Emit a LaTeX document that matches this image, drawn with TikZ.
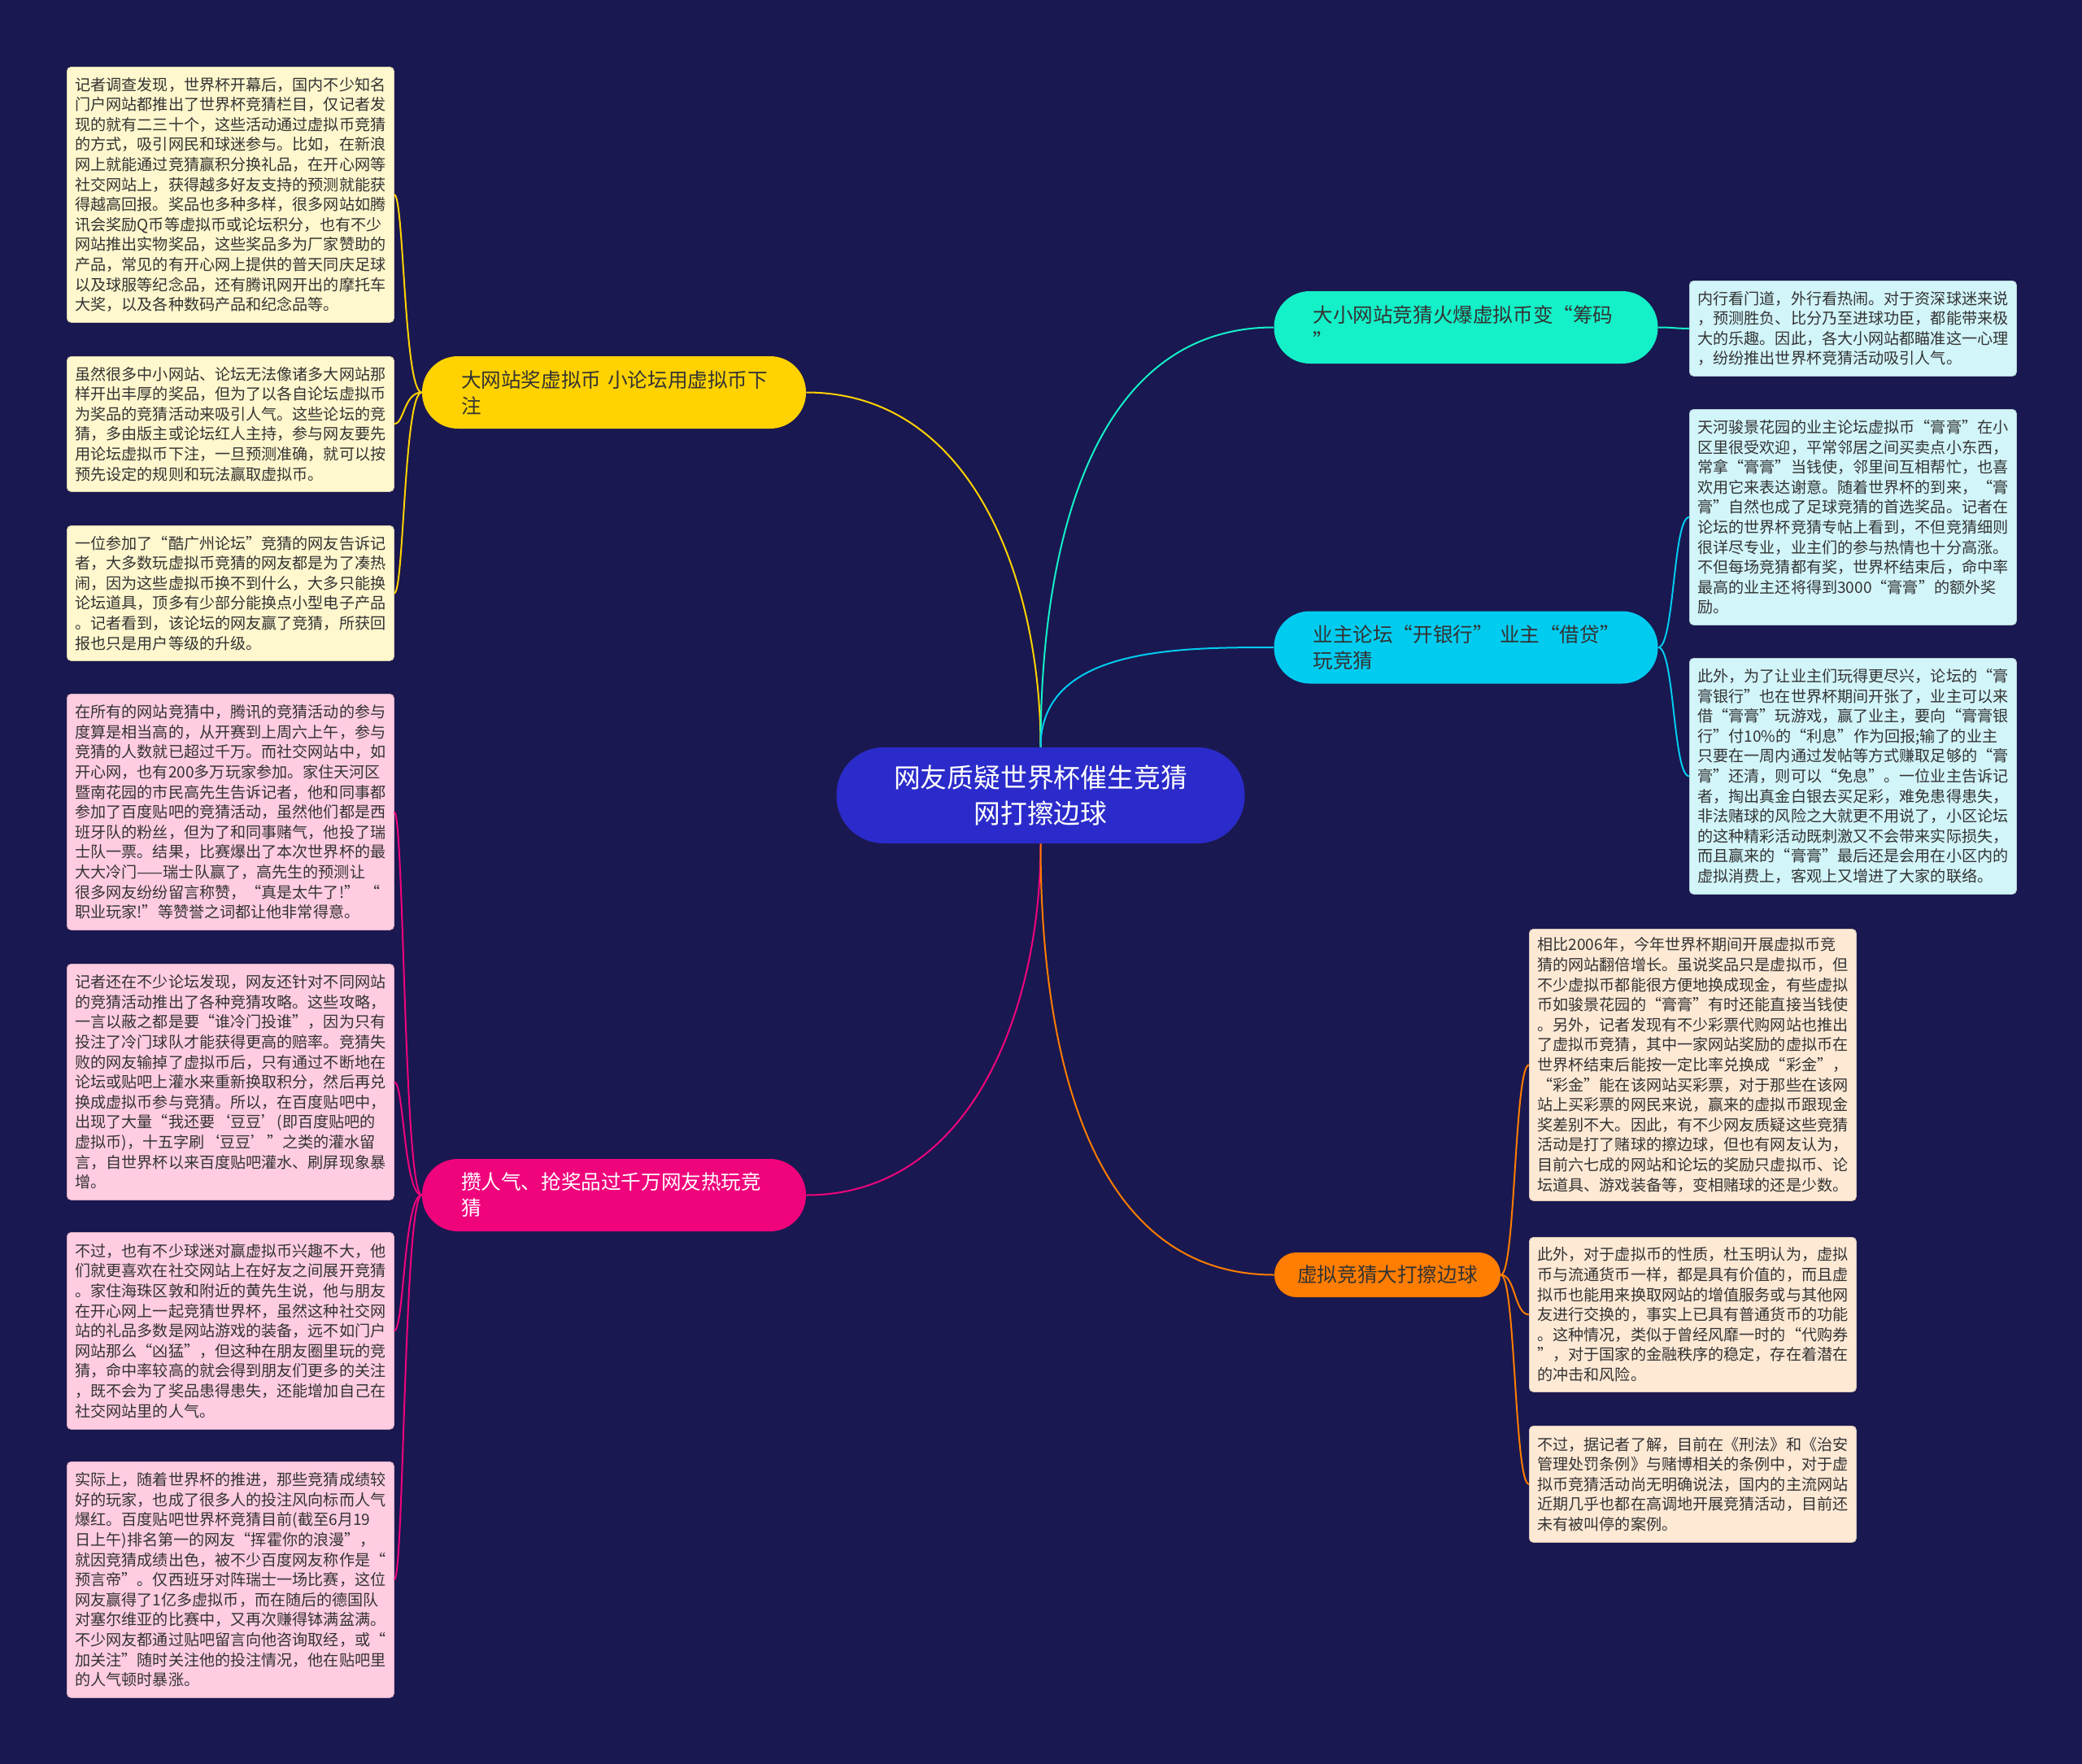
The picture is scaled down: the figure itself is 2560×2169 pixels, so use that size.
\documentclass[tikz,border=0pt]{standalone}
\usepackage{fontspec}
\setmainfont{Noto Sans CJK SC}
\usepackage{tikz}
\usetikzlibrary{positioning,calc}
\definecolor{bgcol}{RGB}{26,24,80}
\definecolor{rootcol}{RGB}{43,43,203}
\definecolor{ylwcol}{RGB}{255,210,0}
\definecolor{pinkcol}{RGB}{240,4,124}
\definecolor{aquacol}{RGB}{20,240,200}
\definecolor{skycol}{RGB}{0,204,240}
\definecolor{orgcol}{RGB}{255,125,0}
\definecolor{ylwleaf}{RGB}{255,247,205}
\definecolor{pinkleaf}{RGB}{255,204,226}
\definecolor{skyleaf}{RGB}{210,245,250}
\definecolor{orgleaf}{RGB}{254,233,213}
\definecolor{txtcol}{RGB}{51,51,51}

\begin{document}
\begin{tikzpicture}[x=0.5pt, y=-0.5pt,
  rootbox/.style={rectangle, fill=rootcol, rounded corners=29pt, text=white,
              minimum width=251pt, minimum height=59pt, text width=181pt,
              inner xsep=35pt, align=center, font=\fontsize{16.4}{21.8}\selectfont},
  topicbox/.style={rectangle, fill=#1, rounded corners=22pt, text=txtcol,
              minimum width=236pt, minimum height=44.5pt, text width=188pt,
              inner xsep=24pt, align=left, font=\fontsize{12.3}{16}\selectfont},
  leafbox/.style={rectangle, fill=#1, draw=#1!85!black, line width=0.4pt,
              rounded corners=2.5pt, anchor=north west, text=txtcol,
              text width=191pt, inner xsep=5pt, align=left,
              font=\fontsize{9.55}{12.3}\selectfont},
  link/.style={line width=1pt, #1}
]
\fill[bgcol] (0,0) rectangle (2560,2169);

\node[rootbox] (root) at (1279.5,978) {网友质疑世界杯催生竞猜\\网打擦边球};

\node[topicbox=ylwcol]  (big)  at (755,482.5)    {大网站奖虚拟币~小论坛用虚拟币下\\注};
\node[topicbox=pinkcol, text=white] (hot) at (755,1469.5) {攒人气、抢奖品过千万网友热玩竞\\猜};
\node[topicbox=aquacol] (chip) at (1802.5,402.5) {大小网站竞猜火爆虚拟币变“筹码\\”};
\node[topicbox=skycol]  (bank) at (1802.5,796)   {业主论坛“开银行”~业主“借贷”\\玩竞猜};
\node[topicbox=orgcol, minimum width=139pt, minimum height=27.5pt, text width=111pt,
      inner xsep=14pt, rounded corners=13.5pt, align=center] (edge) at (1706,1567.5) {虚拟竞猜大打擦边球};

\draw[link=ylwcol]  (root.north) to[out=90,in=0]    (big.east);
\draw[link=aquacol] (root.north) to[out=90,in=180]  (chip.west);
\draw[link=skycol]  (root.north) to[out=90,in=180]  (bank.west);
\draw[link=pinkcol] (root.south) to[out=-90,in=0]   (hot.east);
\draw[link=orgcol]  (root.south) to[out=-90,in=180] (edge.west);

% left side, yellow
\node[leafbox=ylwleaf, minimum height=157pt] (y1) at (82,82) {记者调查发现，世界杯开幕后，国内不少知名\\门户网站都推出了世界杯竞猜栏目，仅记者发\\现的就有二三十个，这些活动通过虚拟币竞猜\\的方式，吸引网民和球迷参与。比如，在新浪\\网上就能通过竞猜赢积分换礼品，在开心网等\\社交网站上，获得越多好友支持的预测就能获\\得越高回报。奖品也多种多样，很多网站如腾\\讯会奖励Q币等虚拟币或论坛积分，也有不少\\网站推出实物奖品，这些奖品多为厂家赞助的\\产品，常见的有开心网上提供的普天同庆足球\\以及球服等纪念品，还有腾讯网开出的摩托车\\大奖，以及各种数码产品和纪念品等。};
\node[leafbox=ylwleaf, minimum height=83pt] (y2) at (82,438) {虽然很多中小网站、论坛无法像诸多大网站那\\样开出丰厚的奖品，但为了以各自论坛虚拟币\\为奖品的竞猜活动来吸引人气。这些论坛的竞\\猜，多由版主或论坛红人主持，参与网友要先\\用论坛虚拟币下注，一旦预测准确，就可以按\\预先设定的规则和玩法赢取虚拟币。};
\node[leafbox=ylwleaf, minimum height=83pt] (y3) at (82,646) {一位参加了“酷广州论坛”竞猜的网友告诉记\\者，大多数玩虚拟币竞猜的网友都是为了凑热\\闹，因为这些虚拟币换不到什么，大多只能换\\论坛道具，顶多有少部分能换点小型电子产品\\。记者看到，该论坛的网友赢了竞猜，所获回\\报也只是用户等级的升级。};

% left side, pink
\node[leafbox=pinkleaf, minimum height=145pt] (p1) at (82,853) {在所有的网站竞猜中，腾讯的竞猜活动的参与\\度算是相当高的，从开赛到上周六上午，参与\\竞猜的人数就已超过千万。而社交网站中，如\\开心网，也有200多万玩家参加。家住天河区\\暨南花园的市民高先生告诉记者，他和同事都\\参加了百度贴吧的竞猜活动，虽然他们都是西\\班牙队的粉丝，但为了和同事赌气，他投了瑞\\士队一票。结果，比赛爆出了本次世界杯的最\\大大冷门——瑞士队赢了，高先生的预测让\\很多网友纷纷留言称赞，“真是太牛了!”~“\\职业玩家!”等赞誉之词都让他非常得意。};
\node[leafbox=pinkleaf, minimum height=145pt] (p2) at (82,1185) {记者还在不少论坛发现，网友还针对不同网站\\的竞猜活动推出了各种竞猜攻略。这些攻略，\\一言以蔽之都是要“谁冷门投谁”，因为只有\\投注了冷门球队才能获得更高的赔率。竞猜失\\败的网友输掉了虚拟币后，只有通过不断地在\\论坛或贴吧上灌水来重新换取积分，然后再兑\\换成虚拟币参与竞猜。所以，在百度贴吧中，\\出现了大量“我还要‘豆豆’(即百度贴吧的\\虚拟币)，十五字刷‘豆豆’”之类的灌水留\\言，自世界杯以来百度贴吧灌水、刷屏现象暴\\增。};
\node[leafbox=pinkleaf, minimum height=121pt] (p3) at (82,1515) {不过，也有不少球迷对赢虚拟币兴趣不大，他\\们就更喜欢在社交网站上在好友之间展开竞猜\\。家住海珠区敦和附近的黄先生说，他与朋友\\在开心网上一起竞猜世界杯，虽然这种社交网\\站的礼品多数是网站游戏的装备，远不如门户\\网站那么“凶猛”，但这种在朋友圈里玩的竞\\猜，命中率较高的就会得到朋友们更多的关注\\，既不会为了奖品患得患失，还能增加自己在\\社交网站里的人气。};
\node[leafbox=pinkleaf, minimum height=145pt] (p4) at (82,1797) {实际上，随着世界杯的推进，那些竞猜成绩较\\好的玩家，也成了很多人的投注风向标而人气\\爆红。百度贴吧世界杯竞猜目前(截至6月19\\日上午)排名第一的网友“挥霍你的浪漫”，\\就因竞猜成绩出色，被不少百度网友称作是“\\预言帝”。仅西班牙对阵瑞士一场比赛，这位\\网友赢得了1亿多虚拟币，而在随后的德国队\\对塞尔维亚的比赛中，又再次赚得钵满盆满。\\不少网友都通过贴吧留言向他咨询取经，或“\\加关注”随时关注他的投注情况，他在贴吧里\\的人气顿时暴涨。};

% right side, cyan
\node[leafbox=skyleaf, minimum height=58.5pt] (c1) at (2077,345) {内行看门道，外行看热闹。对于资深球迷来说\\，预测胜负、比分乃至进球功臣，都能带来极\\大的乐趣。因此，各大小网站都瞄准这一心理\\，纷纷推出世界杯竞猜活动吸引人气。};
\node[leafbox=skyleaf, minimum height=132.5pt] (c2) at (2077,503) {天河骏景花园的业主论坛虚拟币“膏膏”在小\\区里很受欢迎，平常邻居之间买卖点小东西，\\常拿“膏膏”当钱使，邻里间互相帮忙，也喜\\欢用它来表达谢意。随着世界杯的到来，“膏\\膏”自然也成了足球竞猜的首选奖品。记者在\\论坛的世界杯竞猜专帖上看到，不但竞猜细则\\很详尽专业，业主们的参与热情也十分高涨。\\不但每场竞猜都有奖，世界杯结束后，命中率\\最高的业主还将得到3000“膏膏”的额外奖\\励。};
\node[leafbox=skyleaf, minimum height=145pt] (c3) at (2077,809) {此外，为了让业主们玩得更尽兴，论坛的“膏\\膏银行”也在世界杯期间开张了，业主可以来\\借“膏膏”玩游戏，赢了业主，要向“膏膏银\\行”付10\%的“利息”作为回报;输了的业主\\只要在一周内通过发帖等方式赚取足够的“膏\\膏”还清，则可以“免息”。一位业主告诉记\\者，掏出真金白银去买足彩，难免患得患失，\\非法赌球的风险之大就更不用说了，小区论坛\\的这种精彩活动既刺激又不会带来实际损失，\\而且赢来的“膏膏”最后还是会用在小区内的\\虚拟消费上，客观上又增进了大家的联络。};

% right side, orange
\node[leafbox=orgleaf, minimum height=167pt] (o1) at (1880,1142) {相比2006年，今年世界杯期间开展虚拟币竞\\猜的网站翻倍增长。虽说奖品只是虚拟币，但\\不少虚拟币都能很方便地换成现金，有些虚拟\\币如骏景花园的“膏膏”有时还能直接当钱使\\。另外，记者发现有不少彩票代购网站也推出\\了虚拟币竞猜，其中一家网站奖励的虚拟币在\\世界杯结束后能按一定比率兑换成“彩金”，\\“彩金”能在该网站买彩票，对于那些在该网\\站上买彩票的网民来说，赢来的虚拟币跟现金\\奖差别不大。因此，有不少网友质疑这些竞猜\\活动是打了赌球的擦边球，但也有网友认为，\\目前六七成的网站和论坛的奖励只虚拟币、论\\坛道具、游戏装备等，变相赌球的还是少数。};
\node[leafbox=orgleaf, minimum height=95pt] (o2) at (1880,1521) {此外，对于虚拟币的性质，杜玉明认为，虚拟\\币与流通货币一样，都是具有价值的，而且虚\\拟币也能用来换取网站的增值服务或与其他网\\友进行交换的，事实上已具有普通货币的功能\\。这种情况，类似于曾经风靡一时的“代购券\\”，对于国家的金融秩序的稳定，存在着潜在\\的冲击和风险。};
\node[leafbox=orgleaf, minimum height=71.5pt] (o3) at (1880,1753) {不过，据记者了解，目前在《刑法》和《治安\\管理处罚条例》与赌博相关的条例中，对于虚\\拟币竞猜活动尚无明确说法，国内的主流网站\\近期几乎也都在高调地开展竞猜活动，目前还\\未有被叫停的案例。};

\draw[link=ylwcol] (big.west) .. controls +(-22,0) and +(12,0) .. (y1.east);
\draw[link=ylwcol] (big.west) .. controls +(-22,0) and +(12,0) .. (y2.east);
\draw[link=ylwcol] (big.west) .. controls +(-22,0) and +(12,0) .. (y3.east);
\draw[link=pinkcol] (hot.west) .. controls +(-22,0) and +(12,0) .. (p1.east);
\draw[link=pinkcol] (hot.west) .. controls +(-22,0) and +(12,0) .. (p2.east);
\draw[link=pinkcol] (hot.west) .. controls +(-22,0) and +(12,0) .. (p3.east);
\draw[link=pinkcol] (hot.west) .. controls +(-22,0) and +(12,0) .. (p4.east);
\draw[link=aquacol] (chip.east) .. controls +(20,0) and +(-20,0) .. (c1.west);
\draw[link=skycol] (bank.east) .. controls +(20,0) and +(-20,0) .. (c2.west);
\draw[link=skycol] (bank.east) .. controls +(20,0) and +(-20,0) .. (c3.west);
\draw[link=orgcol] (edge.east) .. controls +(18,0) and +(-18,0) .. (o1.west);
\draw[link=orgcol] (edge.east) .. controls +(18,0) and +(-18,0) .. (o2.west);
\draw[link=orgcol] (edge.east) .. controls +(18,0) and +(-18,0) .. (o3.west);
\end{tikzpicture}
\end{document}
